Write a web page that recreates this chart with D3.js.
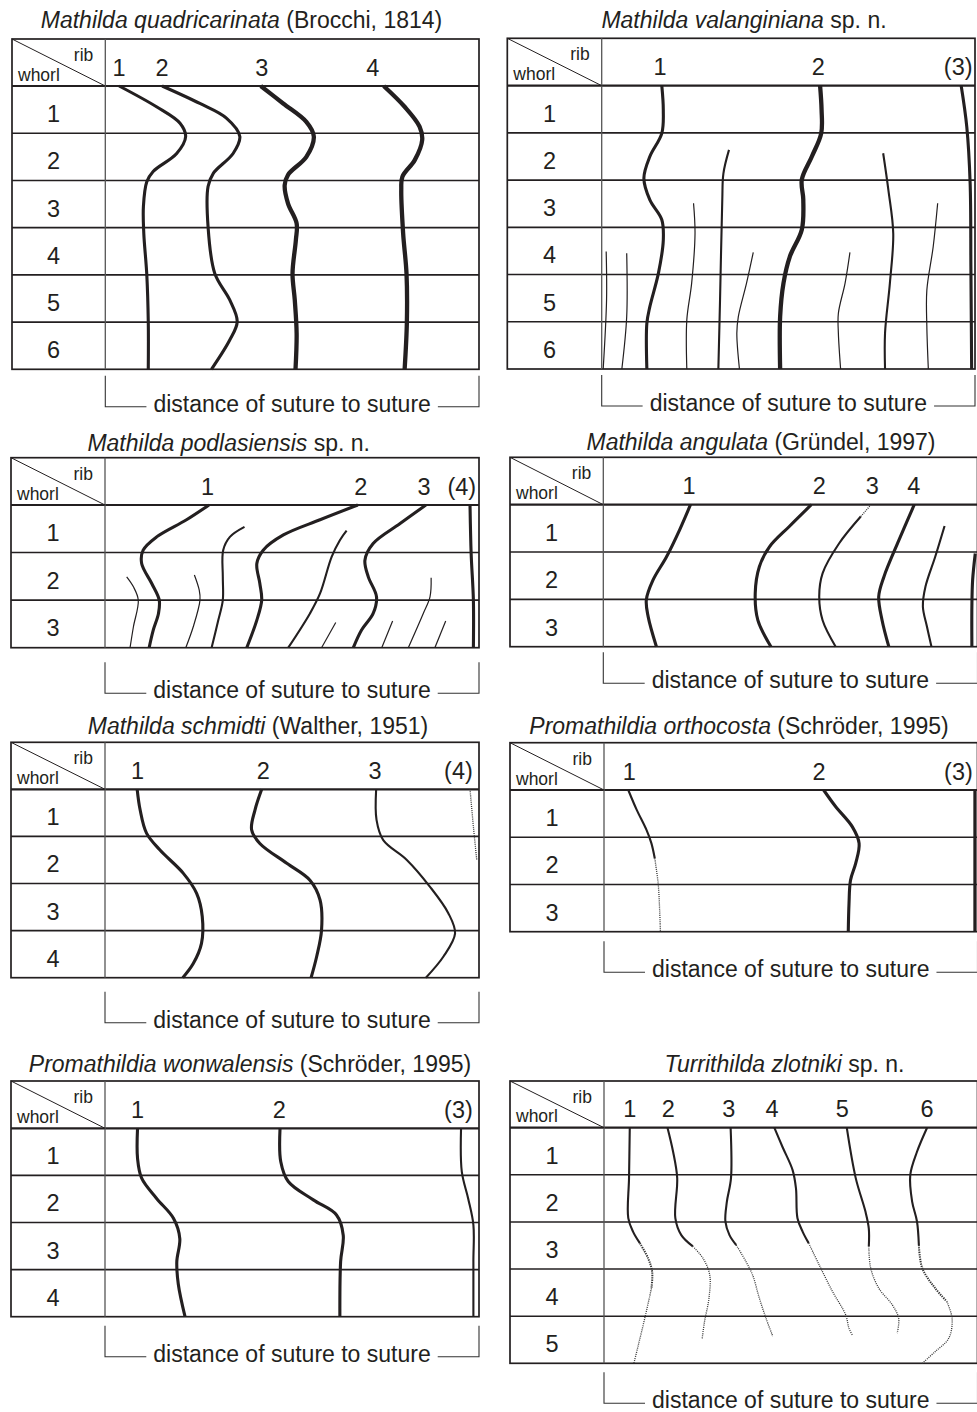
<!DOCTYPE html>
<html>
<head>
<meta charset="utf-8">
<script src="https://cdn.jsdelivr.net/npm/d3@7"></script>
<style>
body { margin: 0; background: #fff; }
text { font-family: "Liberation Sans", Arial, sans-serif; fill: #231f20; white-space: pre; }
</style>
</head>
<body>
<svg id="fig" width="977" height="1412"></svg>
<script>
// titles: [italic name, author part]
var titles = [
  ["Mathilda quadricarinata", " (Brocchi, 1814)"],
  ["Mathilda valanginiana", " sp. n."],
  ["Mathilda podlasiensis", " sp. n."],
  ["Mathilda angulata", " (Gründel, 1997)"],
  ["Mathilda schmidti", " (Walther, 1951)"],
  ["Promathildia orthocosta", " (Schröder, 1995)"],
  ["Promathildia wonwalensis", " (Schröder, 1995)"],
  ["Turrithilda zlotniki", " sp. n."]
];

var whorlCounts = [6, 6, 3, 3, 4, 3, 4, 5];

// rib labels: [label, position as fraction of suture-to-suture distance]
var ribLabels = [
  [["1", .037], ["2", .152], ["3", .419], ["4", .716]],
  [["1", .156], ["2", .58], ["(3)", .955]],
  [["1", .274], ["2", .684], ["3", .853], ["(4)", .954]],
  [["1", .229], ["2", .577], ["3", .719], ["4", .83]],
  [["1", .087], ["2", .423], ["3", .722], ["(4)", .945]],
  [["1", .068], ["2", .576], ["(3)", .949]],
  [["1", .087], ["2", .466], ["(3)", .945]],
  [["1", .069], ["2", .172], ["3", .334], ["4", .45], ["5", .638], ["6", .865]]
];

// ribs: [strength, [[whorl, fraction], ...]]
var quadricarinataRibs = [
  ["bold", [[0,.037],[.44,.137],[.79,.2],[1.07,.215],[1.43,.191],[1.81,.128],[2.03,.111],[2.55,.102],[3.12,.103],[3.99,.111],[5,.115],[6,.115]]],
  ["bold", [[0,.152],[.37,.253],[.68,.324],[1.07,.36],[1.43,.342],[1.85,.289],[2.13,.275],[2.98,.275],[3.97,.293],[4.53,.333],[4.99,.353],[5.38,.333],[6,.284]]],
  ["heavy", [[0,.416],[.37,.476],[.76,.538],[1.07,.558],[1.5,.538],[1.88,.489],[2.1,.48],[2.49,.489],[2.91,.512],[3.26,.51],[3.97,.501],[4.53,.507],[5.24,.512],[6,.509]]],
  ["heavy", [[0,.745],[.44,.801],[.86,.841],[1.14,.848],[1.57,.828],[1.92,.795],[2.2,.792],[3.12,.797],[3.97,.806],[5,.807],[6,.801]]]
];

var valanginianaRibs = [
  ["bold", [[0,.161],[.51,.165],[1.01,.161],[1.5,.129],[1.96,.113],[2.42,.129],[2.84,.161],[3.27,.165],[3.97,.152],[4.68,.129],[5.03,.121],[6,.121]]],
  ["heavy", [[0,.585],[.51,.589],[1.01,.588],[1.5,.563],[1.99,.536],[2.41,.54],[3.05,.536],[3.62,.504],[4.18,.487],[4.89,.478],[6,.478]]],
  ["bold", [[0,.963],[.87,.978],[2.07,.987],[3.83,.989],[6,.991]]],
  ["medium", [[1.36,.341],[1.86,.326],[2.42,.323],[4.54,.317],[6,.3125]]],
  ["medium", [[1.43,.754],[2.21,.768],[3.13,.781],[4.18,.772],[5.24,.759],[6,.759]]],
  ["fine", [[2.49,.246],[3.13,.25],[4.18,.241],[4.96,.228],[6,.228]]],
  ["fine", [[2.49,.9],[3.41,.888],[4.33,.871],[5.1,.871],[6,.875]]],
  ["fine", [[3.51,.012],[4.54,.013],[6,.004]]],
  ["fine", [[3.55,.067],[4.89,.067],[6,.054]]],
  ["fine", [[3.53,.406],[4.18,.388],[4.89,.366],[5.24,.362],[6,.369]]],
  ["fine", [[3.53,.665],[4.18,.652],[4.82,.634],[5.24,.634],[6,.64]]]
];

var podlasiensisRibs = [
  ["bold", [[0,.278],[.31,.218],[.67,.138],[.95,.102],[1.23,.098],[1.65,.125],[2,.145],[2.28,.143],[2.63,.129],[3,.118]]],
  ["bold", [[0,.676],[.31,.575],[.63,.477],[.95,.423],[1.23,.406],[1.65,.414],[2,.419],[2.42,.406],[3,.379]]],
  ["bold", [[0,.858],[.39,.789],[.81,.717],[1.16,.695],[1.51,.704],[1.93,.726],[2.28,.717],[2.63,.686],[3,.664]]],
  ["bold", [[0,.976],[1.02,.979],[2,.985],[3,.985]]],
  ["medium", [[.46,.373],[.67,.334],[.95,.316],[1.51,.315],[2,.315],[2.42,.303],[3,.285]]],
  ["medium", [[.54,.646],[.74,.628],[1.09,.606],[1.86,.575],[2.28,.548],[3,.49]]],
  ["fine", [[1.51,.058],[1.72,.076],[2,.089],[2.56,.076],[3,.067]]],
  ["fine", [[1.47,.239],[1.79,.252],[2,.254],[2.56,.236],[3,.216]]],
  ["fine", [[1.53,.872],[1.93,.869],[2.28,.851],[3,.811]]],
  ["fine", [[2.47,.617],[3,.579]]],
  ["fine", [[2.44,.769],[3,.74]]],
  ["fine", [[2.44,.911],[3,.882]]]
];

var angulataRibs = [
  ["bold", [[0,.233],[.53,.204],[1.1,.169],[1.59,.133],[2.01,.115],[2.37,.12],[3,.142]]],
  ["bold", [[0,.556],[.46,.497],[.89,.444],[1.31,.417],[1.87,.406],[2.44,.413],[3,.448]]],
  ["dotted", [[.03,.712],[.25,.688]]],
  ["medium", [[.25,.688],[.82,.63],[1.45,.586],[1.94,.577],[2.44,.586],[3,.621]]],
  ["bold", [[0,.831],[.75,.79],[1.52,.75],[1.94,.736],[2.44,.745],[3,.763]]],
  ["medium", [[.45,.912],[1.1,.887],[1.73,.861],[2.15,.854],[2.58,.865],[3,.877]]],
  ["bold", [[1.03,.994],[1.59,.987],[2.15,.985],[3,.985]]]
];

var schmidtiRibs = [
  ["bold", [[0,.086],[.44,.094],[.93,.111],[1.29,.147],[1.78,.209],[2.21,.245],[2.7,.26],[3.27,.258],[3.7,.236],[4,.208]]],
  ["bold", [[0,.419],[.44,.401],[.86,.392],[1.15,.414],[1.57,.486],[1.93,.548],[2.35,.575],[2.99,.579],[3.55,.566],[4,.551]]],
  ["medium", [[0,.725],[.65,.726],[1.08,.744],[1.5,.807],[2.07,.869],[2.63,.918],[3.06,.936],[3.55,.905],[4,.858]]],
  ["dotted", [[0,.976],[.79,.985],[1.5,.994]]]
];

var orthocostaRibs = [
  ["medium", [[0,.065],[.41,.087],[.85,.114],[1.13,.127],[1.45,.136]]],
  ["dotted", [[1.45,.136],[1.98,.145],[2.54,.149],[3,.151]]],
  ["bold", [[0,.588],[.35,.62],[.78,.665],[1.13,.683],[1.55,.674],[1.91,.66],[2.4,.656],[3,.654]]],
  ["bold", [[0,.993],[3,.993]]]
];

var wonwalensisRibs = [
  ["bold", [[0,.087],[.64,.087],[1.06,.098],[1.49,.138],[1.91,.183],[2.34,.2],[2.83,.192],[3.31,.196],[4,.214]]],
  ["bold", [[0,.468],[.71,.47],[1.13,.49],[1.52,.557],[1.84,.619],[2.27,.637],[2.83,.63],[4,.628]]],
  ["medium", [[0,.952],[.92,.954],[1.49,.971],[2.05,.985],[2.83,.985],[4,.985]]]
];

var zlotnikiRibs = [
  ["medium", [[0,.069],[1.07,.067],[1.92,.065],[2.21,.078],[2.45,.096]]],
  ["dotted-strong", [[2.45,.096],[2.77,.118],[3.06,.129],[3.41,.127]]],
  ["dotted", [[3.41,.127],[4.05,.109],[4.61,.092],[5,.08]]],
  ["medium", [[0,.17],[.51,.185],[1.07,.196],[1.92,.191],[2.28,.207],[2.52,.238]]],
  ["dotted", [[2.52,.238],[2.77,.265],[3.12,.283],[3.62,.281],[4.12,.269],[4.47,.263]]],
  ["medium", [[0,.339],[1.07,.34],[1.57,.329],[1.99,.325],[2.28,.336],[2.49,.354]]],
  ["dotted", [[2.49,.354],[2.84,.38],[3.13,.398],[3.62,.416],[4.05,.434],[4.43,.452]]],
  ["medium", [[0,.456],[.41,.478],[.9,.505],[1.29,.514],[1.92,.518],[2.21,.532],[2.45,.548]]],
  ["dotted", [[2.45,.548],[2.91,.576],[3.48,.612],[3.97,.647],[4.26,.656],[4.4,.665]]],
  ["medium", [[0,.65],[1.07,.674],[1.78,.7],[2.14,.709],[2.52,.709]]],
  ["dotted", [[2.52,.709],[2.98,.714],[3.41,.736],[3.76,.772],[4.05,.789],[4.36,.785]]],
  ["medium", [[0,.865],[.51,.838],[1,.82],[1.57,.825],[1.99,.838],[2.49,.843]]],
  ["dotted-strong", [[2.49,.843],[2.98,.852],[3.41,.887],[3.69,.918]]],
  ["dotted", [[3.69,.918],[4.05,.932],[4.47,.923],[4.75,.887],[5,.852]]]
];

var ribSets = [quadricarinataRibs, valanginianaRibs, podlasiensisRibs, angulataRibs,
               schmidtiRibs, orthocostaRibs, wonwalensisRibs, zlotnikiRibs];

var bracketText = "distance of suture to suture";

// panel boxes on the page
var layout = [
  {left:12,    top:39,     div:105.3, right:479,   head:86,     bottom:369.3,  tx:241.5, ty:28,     brk:37.4},
  {left:507.3, top:38.3,   div:601.7, right:975,   head:85.7,   bottom:369,    tx:744,   ty:28.3,   brk:37},
  {left:11,    top:457.7,  div:105,   right:479,   head:505,    bottom:647.7,  tx:228.7, ty:450.7,  brk:45.6},
  {left:510,   top:457.3,  div:603.3, right:977.5, head:504.7,  bottom:646.7,  tx:761,   ty:450,    brk:36.6},
  {left:11,    top:742.3,  div:105,   right:479,   head:789.3,  bottom:977.7,  tx:258,   ty:734,    brk:45},
  {left:510,   top:742.7,  div:604,   right:977.5, head:790,    bottom:931.7,  tx:739,   ty:734,    brk:40.6},
  {left:11,    top:1081,   div:105,   right:479,   head:1128.3, bottom:1316.7, tx:250,   ty:1072.3, brk:40},
  {left:510,   top:1081,   div:604,   right:977.5, head:1127.7, bottom:1363.3, tx:784.5, ty:1072.3, brk:40}
];

var strokeOf = {heavy: 4.3, bold: 3.1, medium: 2.1, fine: 1.2, dotted: 1.3, "dotted-strong": 2};
var dashOf = {dotted: "1,1.1", "dotted-strong": "1.3,1"};
var ink = "#231f20";

var svg = d3.select("#fig");
svg.append("rect").attr("width", 977).attr("height", 1412).attr("fill", "#fff");

layout.forEach(function(p, i) {
  var g = svg.append("g");
  var n = whorlCounts[i];
  var x = d3.scaleLinear().domain([0, 1]).range([p.div, p.right]);
  var y = d3.scaleLinear().domain([0, n]).range([p.head, p.bottom]);

  // title
  var t = g.append("text")
    .attr("x", p.tx).attr("y", p.ty)
    .attr("text-anchor", "middle")
    .style("font-size", "23px");
  t.append("tspan").style("font-style", "italic").text(titles[i][0]);
  t.append("tspan").text(titles[i][1]);

  // table
  g.append("rect")
    .attr("x", p.left).attr("y", p.top)
    .attr("width", p.right - p.left).attr("height", p.bottom - p.top)
    .attr("fill", "none").attr("stroke", ink).attr("stroke-width", 1.7);

  g.selectAll(".row")
    .data(d3.range(1, n))
    .enter().append("line")
    .attr("x1", p.left).attr("x2", p.right)
    .attr("y1", function(k) { return y(k); })
    .attr("y2", function(k) { return y(k); })
    .attr("stroke", ink).attr("stroke-width", 1.6);

  g.append("line")
    .attr("x1", p.left).attr("x2", p.right)
    .attr("y1", p.head).attr("y2", p.head)
    .attr("stroke", ink).attr("stroke-width", 2.2);

  g.append("line")
    .attr("x1", p.div).attr("x2", p.div)
    .attr("y1", p.top).attr("y2", p.bottom)
    .attr("stroke", "#555").attr("stroke-width", 1.3);

  g.append("line")
    .attr("x1", p.left).attr("y1", p.top)
    .attr("x2", p.div).attr("y2", p.head)
    .attr("stroke", ink).attr("stroke-width", 1);

  g.append("text")
    .attr("x", p.div - 12).attr("y", p.top + 22)
    .attr("text-anchor", "end")
    .style("font-size", "17.5px").text("rib");
  g.append("text")
    .attr("x", p.left + 6).attr("y", p.head - 5.5)
    .style("font-size", "17.5px").text("whorl");

  // whorl numbers
  g.selectAll(".wn")
    .data(d3.range(n))
    .enter().append("text")
    .attr("x", (p.left + p.div) / 2 - 5)
    .attr("y", function(k) { return (y(k) + y(k + 1)) / 2 + 12.5; })
    .attr("text-anchor", "middle")
    .style("font-size", "23.5px")
    .text(function(k) { return k + 1; });

  // rib numbers
  g.selectAll(".rl")
    .data(ribLabels[i])
    .enter().append("text")
    .attr("x", function(d) { return x(d[1]); })
    .attr("y", p.head - 10.5)
    .attr("text-anchor", "middle")
    .style("font-size", "23.5px")
    .text(function(d) { return d[0]; });

  // ribs
  var ribLine = d3.line()
    .x(function(d) { return x(d[1]); })
    .y(function(d) { return y(d[0]); })
    .curve(d3.curveCatmullRom.alpha(0.5));

  g.selectAll(".rib")
    .data(ribSets[i])
    .enter().append("path")
    .attr("d", function(d) { return ribLine(d[1]); })
    .attr("fill", "none")
    .attr("stroke", function(d) { return dashOf[d[0]] ? "#333" : ink; })
    .attr("stroke-width", function(d) { return strokeOf[d[0]]; })
    .attr("stroke-dasharray", function(d) { return dashOf[d[0]] || null; });

  // suture-to-suture bracket
  var ly = p.bottom + p.brk;
  var label = g.append("text")
    .attr("x", (p.div + p.right) / 2).attr("y", ly + 5)
    .attr("text-anchor", "middle")
    .style("font-size", "23px")
    .text(bracketText);
  var tw = label.node().getComputedTextLength();
  var c = (p.div + p.right) / 2;
  var bp = "M" + p.div + "," + (ly - 31) + "V" + ly + "H" + (c - tw / 2 - 7) +
           "M" + (c + tw / 2 + 7) + "," + ly + "H" + p.right + "V" + (ly - 31);
  g.append("path").attr("d", bp)
    .attr("fill", "none").attr("stroke", "#333").attr("stroke-width", 1.1);
});
</script>
</body>
</html>
